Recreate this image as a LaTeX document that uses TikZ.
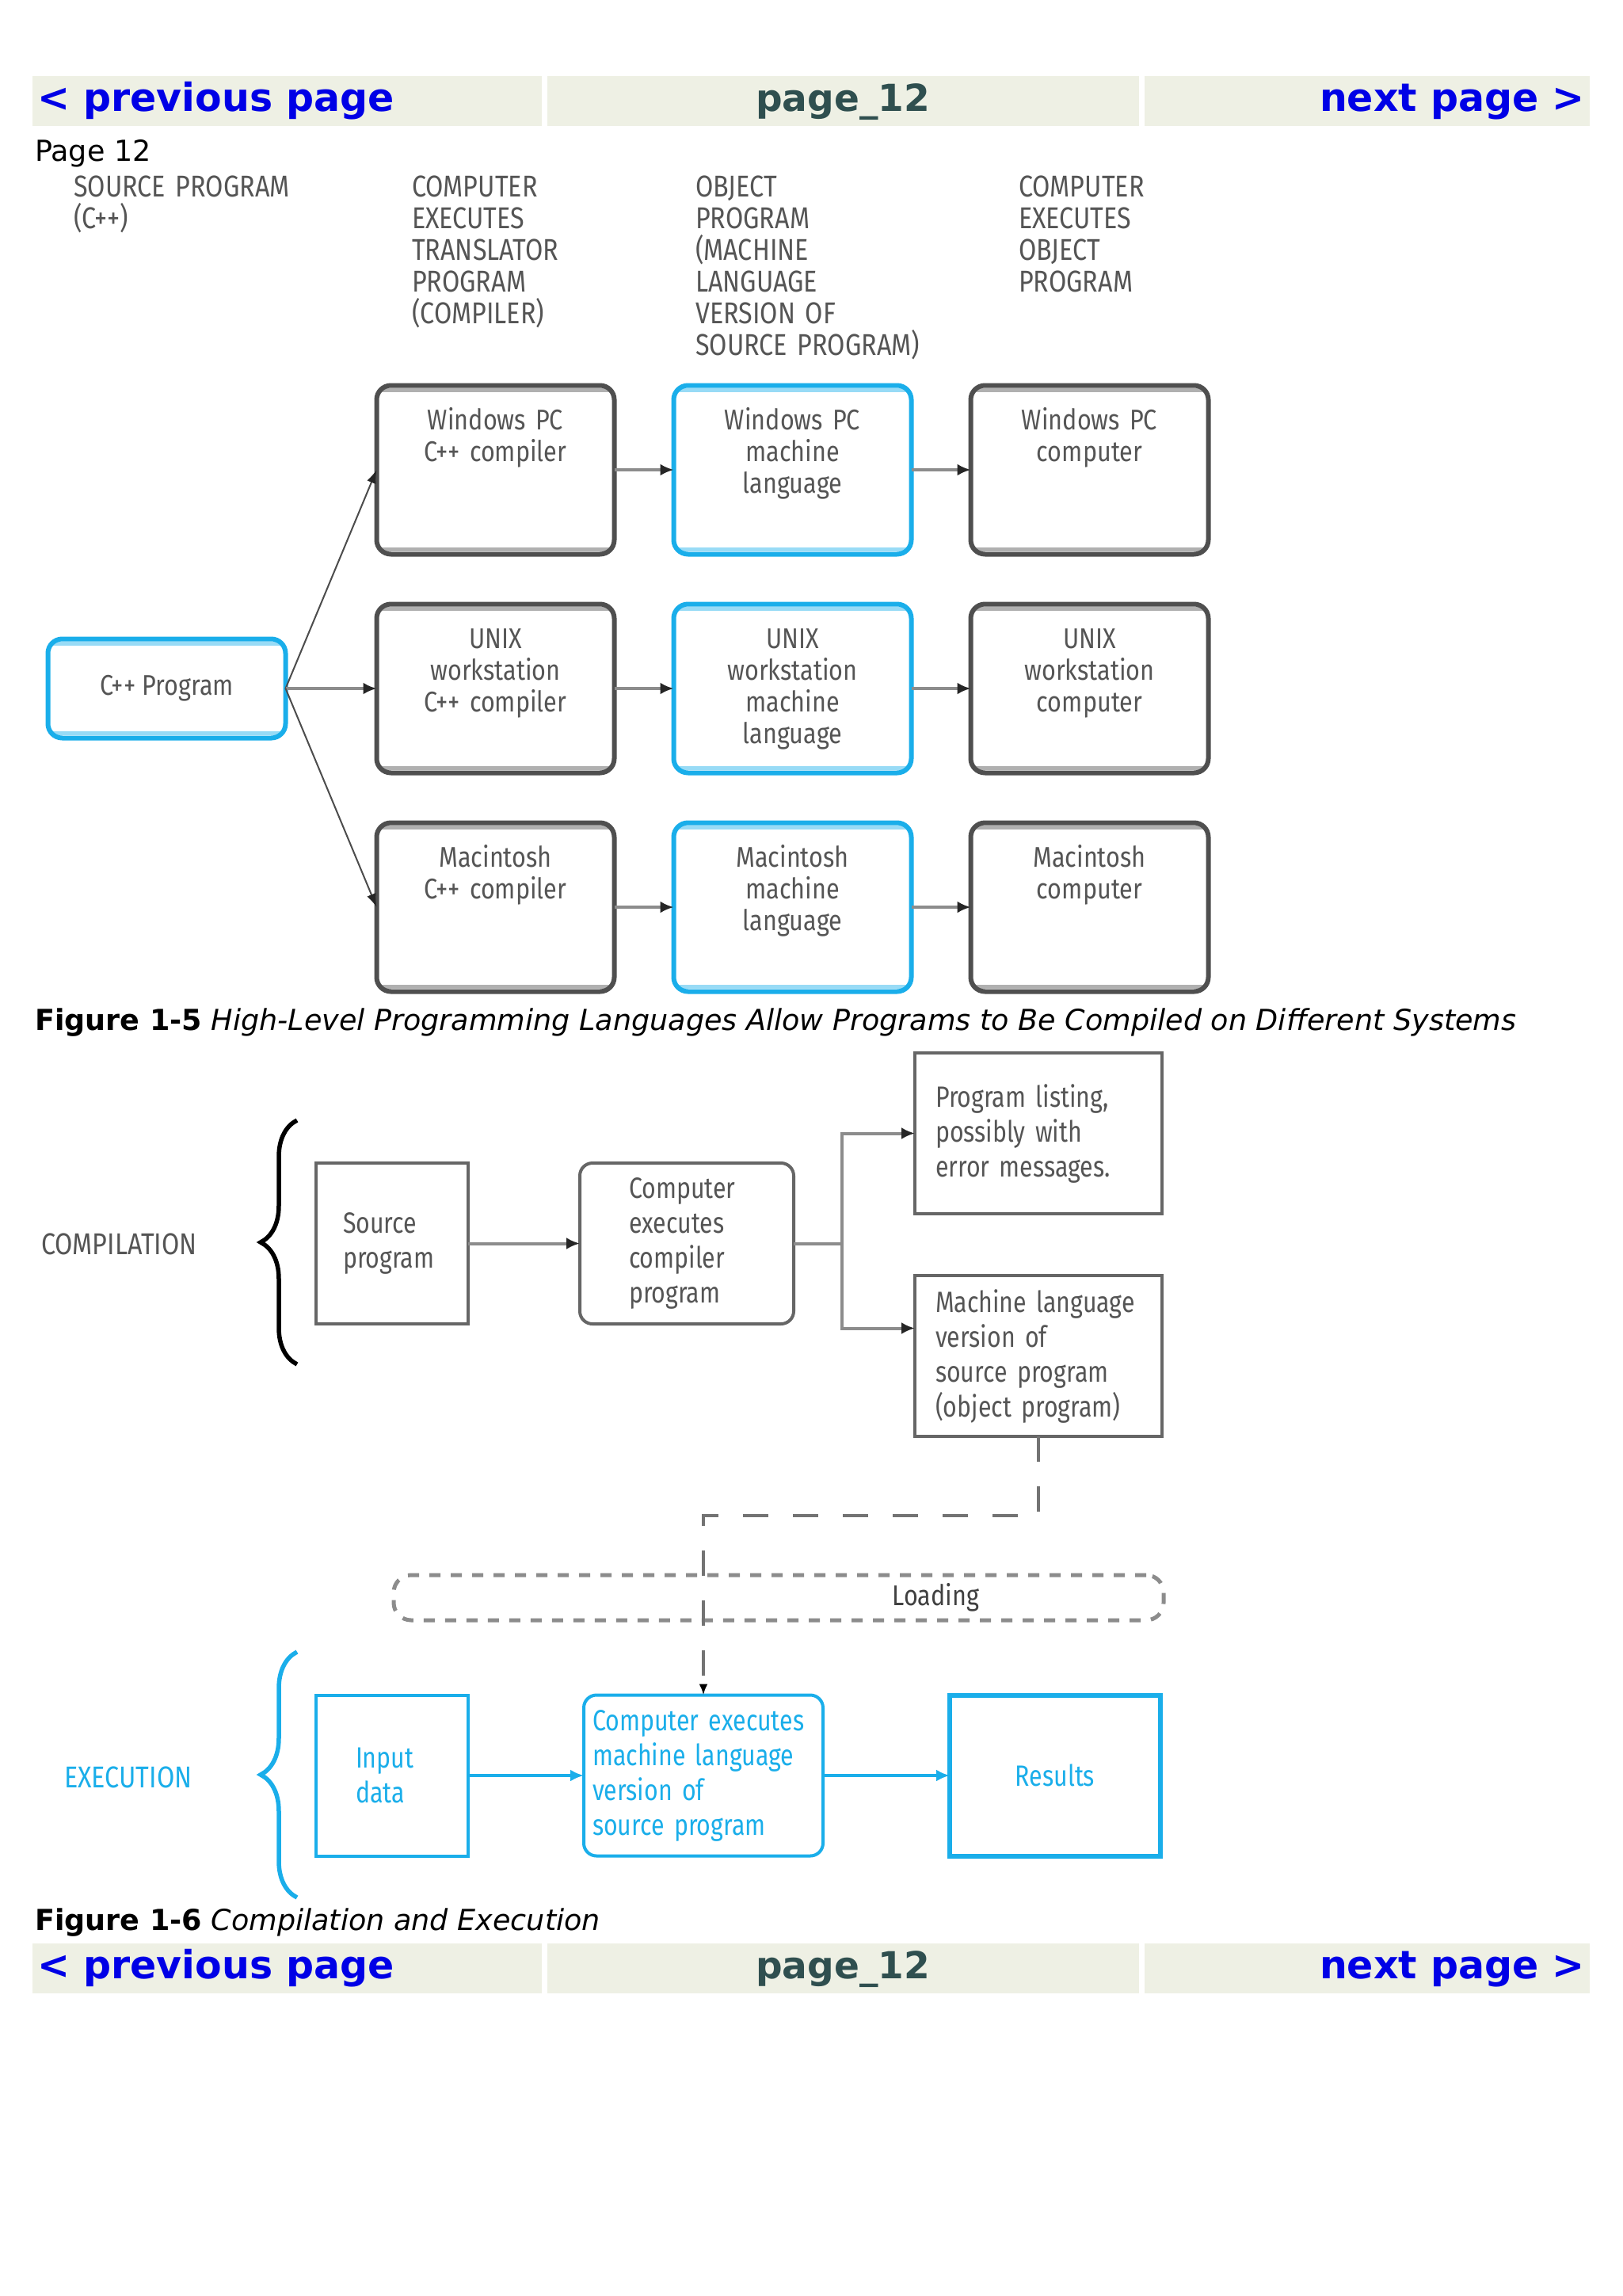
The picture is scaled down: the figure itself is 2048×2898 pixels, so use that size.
\documentclass[tikz,border=0pt]{standalone}
\usepackage{fontspec}
\usetikzlibrary{arrows.meta,positioning,decorations.pathreplacing}
\setmainfont{DejaVu Sans}
\newfontfamily\condfont[FakeStretch=0.85]{Fira Sans}
\newfontfamily\blockfont[FakeStretch=0.82]{Fira Sans}
\hyphenpenalty=10000
\exhyphenpenalty=10000
\definecolor{navbg}{HTML}{EEF0E4}
\definecolor{navblue}{HTML}{0000E6}
\definecolor{navslate}{HTML}{2F4F4F}
\definecolor{boxgray}{HTML}{4F4F4F}
\definecolor{txtgray}{HTML}{555555}
\definecolor{skyblue}{HTML}{1AAEEA}

\begin{document}
\begin{tikzpicture}[x=1pt, y=-1pt, >=Latex,
  navcell/.style={fill=navbg, anchor=north west, minimum height=63pt, inner sep=0pt},
  navlink/.style={font=\fontsize{49}{56}\selectfont\bfseries, text=navblue, inner sep=0pt},
  pagetext/.style={font=\fontsize{36.5}{42}\selectfont, inner sep=0pt, anchor=base west},
  colhead/.style={font=\condfont\fontsize{38}{40}\selectfont, text=txtgray, text width=380pt, align=left, inner sep=0pt, anchor=base west},
  boxtext/.style={font=\condfont\fontsize{36}{40}\selectfont, text=txtgray, text width=290pt, align=center, inner sep=0pt, anchor=base, yshift=-56pt},
  panel/.style={draw=#1, line width=6pt, rounded corners=18pt, fill=white, minimum width=300pt, minimum height=213pt, inner sep=0pt, outer sep=0pt,
    path picture={\draw[#1!45, line width=5pt]
      ([yshift=-6pt]path picture bounding box.north west) -- ([yshift=-6pt]path picture bounding box.north east)
      ([yshift=6pt]path picture bounding box.south west) -- ([yshift=6pt]path picture bounding box.south east);}},
  flow/.style={draw=black!45, line width=4pt, -{Latex[length=17pt, width=15pt, color=black!85]}},
  fanout/.style={draw=black!70, line width=2pt, -{Latex[length=17pt, width=12pt, color=black!85]}},
  plainbox/.style={draw=#1, line width=4pt, fill=white, minimum height=203pt, inner ysep=0pt, outer sep=0pt, align=left, font=\blockfont\fontsize{37}{44}\selectfont},
  grayblock/.style={plainbox=black!60, text=txtgray},
  blueblock/.style={plainbox=skyblue, text=skyblue},
  bluearrow/.style={draw=skyblue, line width=3.5pt, -{Latex[length=17pt, width=15pt]}},
  loadbox/.style={draw=black!45, line width=5pt, dash pattern=on 14pt off 13pt, rounded corners=22pt, minimum height=57pt, inner ysep=0pt, inner xsep=233pt, text width=506pt, align=right, font=\condfont\fontsize{36}{40}\selectfont, text=black!75},
  loadpath/.style={draw=black!55, line width=3.5pt, dash pattern=on 32pt off 31pt, -{Latex[length=14pt, width=11pt, color=black]}},
  sidelabel/.style={font=\condfont\fontsize{38}{40}\selectfont, text=txtgray, inner sep=0pt, anchor=base west},
  curly/.style={decorate, decoration={brace, amplitude=46pt}, line width=5.5pt}]

  \useasboundingbox (0,0) rectangle (2048,2898);
  \fill[white] (0,0) rectangle (2048,2898);

  % navigation bar, top
  \node[navcell, minimum width=643pt] (topl) at (41,96) {};
  \node[navcell, minimum width=747pt] (topc) at (691,96) {};
  \node[navcell, minimum width=562pt] (topr) at (1445,96) {};
  \node[navlink, anchor=base west] (topprev) at (47,141) {< previous page};
  \node[navlink, font=\fontsize{47}{56}\selectfont\bfseries, text=navslate, anchor=base] (toppage) at (1064,141) {page\_12};
  \node[navlink, anchor=base east] (topnext) at (2001,141) {next page >};

  \node[pagetext] (pageno) at (44,204) {Page 12};

  % column headings
  \node[colhead] (hsrc) at (93,248) {SOURCE PROGRAM\\(C++)};
  \node[colhead] (htrans) at (520,248) {COMPUTER\\EXECUTES\\TRANSLATOR\\PROGRAM\\(COMPILER)};
  \node[colhead] (hobj) at (878,248) {OBJECT\\PROGRAM\\(MACHINE\\LANGUAGE\\VERSION OF\\SOURCE PROGRAM)};
  \node[colhead] (hrun) at (1286,248) {COMPUTER\\EXECUTES\\OBJECT\\PROGRAM};

  % figure 1-5
  \node[panel=boxgray, label={[boxtext]north:{Windows PC\\C++ compiler}}] (wincc) at (625.5,593) {};
  \node[panel=skyblue, right=75pt of wincc, label={[boxtext]north:{Windows PC\\machine\\language}}] (winml) {};
  \node[panel=boxgray, right=75pt of winml, label={[boxtext]north:{Windows PC\\computer}}] (winpc) {};
  \node[panel=boxgray, below=63pt of wincc, label={[boxtext]north:{UNIX\\workstation\\C++ compiler}}] (unixcc) {};
  \node[panel=skyblue, right=75pt of unixcc, label={[boxtext]north:{UNIX\\workstation\\machine\\language}}] (unixml) {};
  \node[panel=boxgray, right=75pt of unixml, label={[boxtext]north:{UNIX\\workstation\\computer}}] (unixpc) {};
  \node[panel=boxgray, below=63pt of unixcc, label={[boxtext]north:{Macintosh\\C++ compiler}}] (maccc) {};
  \node[panel=skyblue, right=75pt of maccc, label={[boxtext]north:{Macintosh\\machine\\language}}] (macml) {};
  \node[panel=boxgray, right=75pt of macml, label={[boxtext]north:{Macintosh\\computer}}] (macpc) {};
  \node[panel=skyblue, minimum height=125pt, left=115pt of unixcc, font=\condfont\fontsize{36}{40}\selectfont, text=txtgray] (cpp) {C++ Program};

  \draw[fanout] (cpp.east) -- (wincc.west);
  \draw[flow] (cpp) -- (unixcc);
  \draw[fanout] (cpp.east) -- (maccc.west);
  \draw[flow] (wincc) -- (winml); \draw[flow] (winml) -- (winpc);
  \draw[flow] (unixcc) -- (unixml); \draw[flow] (unixml) -- (unixpc);
  \draw[flow] (maccc) -- (macml); \draw[flow] (macml) -- (macpc);

  \node[pagetext] (fig5cap) at (44,1300) {\textbf{Figure 1-5} \textit{High-Level Programming Languages Allow Programs to Be Compiled on Different Systems}};

  % figure 1-6, compilation
  \node[sidelabel] (complbl) at (52,1583) {COMPILATION};
  \draw[curly] (375,1722) -- (375,1414);
  \node[grayblock, text width=124pt, inner xsep=34pt] (src) at (495,1569.5) {Source\\program};
  \node[grayblock, rounded corners=16pt, text width=146pt, inner xsep=62pt, right=141pt of src] (ccomp) {Computer\\executes\\compiler\\program};
  \node[grayblock, text width=260pt, inner xsep=26pt] (plist) at (1311,1430.5) {Program listing,\\possibly with\\error messages.};
  \node[grayblock, text width=260pt, inner xsep=26pt, below=78pt of plist] (mlang) {Machine language\\version of\\source program\\(object program)};
  \coordinate (fork) at ([xshift=61pt]ccomp.east);
  \draw[flow] (src) -- (ccomp);
  \draw[flow, -] (ccomp) -- (fork);
  \draw[flow] (fork) |- (plist.west);
  \draw[flow] (fork) |- ([yshift=35pt]mlang.west);

  % loading
  \node[loadbox] (loading) at (983,2016.5) {Loading};

  % figure 1-6, execution
  \node[sidelabel, text=skyblue] (execlbl) at (81,2256) {EXECUTION};
  \draw[curly, draw=skyblue] (375,2395) -- (375,2085);
  \node[blueblock, text width=92pt, inner xsep=50pt] (indata) at (495,2241) {Input\\data};
  \node[blueblock, rounded corners=16pt, text width=280pt, inner xsep=11pt, right=146pt of indata] (cexec) {Computer executes\\machine language\\version of\\source program};
  \node[blueblock, line width=6pt, text width=236pt, inner xsep=15pt, align=center, right=160pt of cexec] (results) {Results};
  \draw[bluearrow] (indata) -- (cexec);
  \draw[bluearrow] (cexec) -- (results);
  \draw[loadpath] (mlang.south) -- ++(0,100) -| (cexec.north);

  \node[pagetext] (fig6cap) at (44,2436) {\textbf{Figure 1-6} \textit{Compilation and Execution}};

  % navigation bar, bottom
  \node[navcell, minimum width=643pt] (botl) at (41,2453) {};
  \node[navcell, minimum width=747pt] (botc) at (691,2453) {};
  \node[navcell, minimum width=562pt] (botr) at (1445,2453) {};
  \node[navlink, anchor=base west] (botprev) at (47,2497) {< previous page};
  \node[navlink, font=\fontsize{47}{56}\selectfont\bfseries, text=navslate, anchor=base] (botpage) at (1064,2497) {page\_12};
  \node[navlink, anchor=base east] (botnext) at (2001,2497) {next page >};
\end{tikzpicture}
\end{document}
